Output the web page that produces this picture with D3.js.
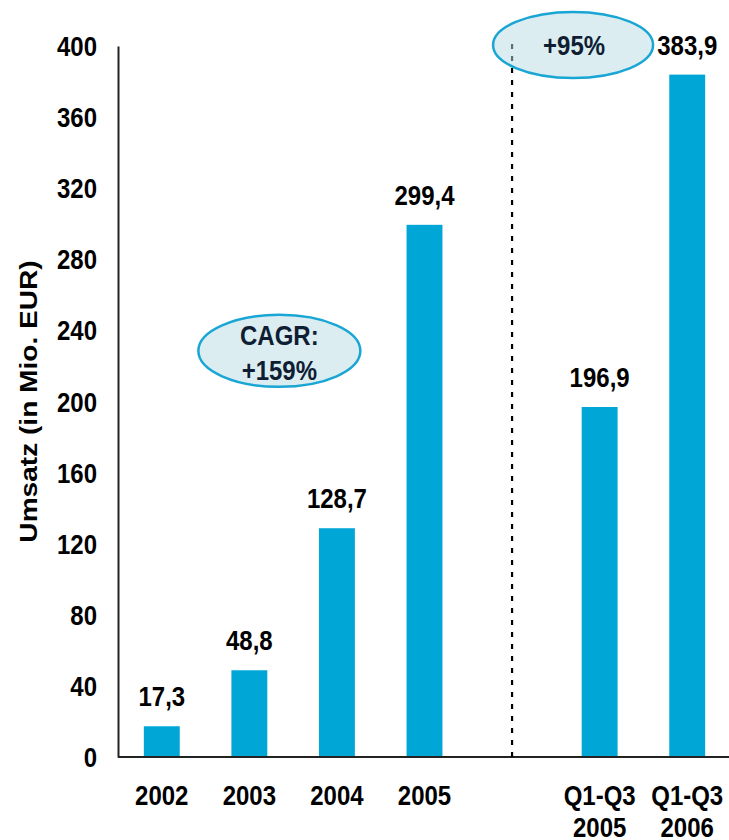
<!DOCTYPE html>
<html>
<head>
<meta charset="utf-8">
<script src="https://cdn.jsdelivr.net/npm/d3@7"></script>
<style>
  html, body { margin: 0; padding: 0; background: #fff; }
  svg { display: block; }
  text { font-family: "Liberation Sans", Arial, sans-serif; font-weight: bold; }
</style>
</head>
<body>
<svg id="chart" width="729" height="840"></svg>
<script>
// ---- data ----
const categories = ["2002", "2003", "2004", "2005", "", "Q1-Q3 2005", "Q1-Q3 2006"];
const categoryLines = [["2002"], ["2003"], ["2004"], ["2005"], [], ["Q1-Q3", "2005"], ["Q1-Q3", "2006"]];
const values = [17.3, 48.8, 128.7, 299.4, null, 196.9, 383.9];
const yTicks = [0, 40, 80, 120, 160, 200, 240, 280, 320, 360, 400];
const yTitle = "Umsatz (in Mio. EUR)";
const cagrLines = ["CAGR:", "+159%"];
const growthLabel = "+95%";

// ---- setup ----
const svg = d3.select("#chart");
const FS = 24, SY = 1.17;
const barColor = "#00a6d6";

const x = d3.scaleBand().domain(categories).range([118, 731]).paddingInner(0.59).paddingOuter(0.295);
const y = d3.scaleLinear().domain([0, 400]).range([757, 46]);

const de = d3.formatLocale({decimal: ",", thousands: ".", grouping: [3], currency: ["", "€"]});
const fmt = de.format(".1f");

function label(g, tx, ty, str, anchor, color) {
  return g.append("text")
    .attr("transform", `translate(${tx},${ty}) scale(1,${SY})`)
    .attr("text-anchor", anchor || "middle")
    .attr("font-size", FS)
    .attr("fill", color || "#000")
    .text(str);
}

// bars
const bars = categories.map((c, i) => ({c, v: values[i]})).filter(d => d.v != null);
svg.append("g").selectAll("rect").data(bars).join("rect")
  .attr("x", d => x(d.c))
  .attr("y", d => y(d.v))
  .attr("width", x.bandwidth())
  .attr("height", d => y(0) - y(d.v))
  .attr("fill", barColor);

// value labels
const vl = svg.append("g");
bars.forEach(d => label(vl, x(d.c) + x.bandwidth() / 2, y(d.v) - 20, fmt(d.v)));

// y axis
const yAxis = svg.append("g").attr("transform", "translate(118,0)")
  .call(d3.axisLeft(y).tickValues(yTicks).tickSize(0).tickFormat(""));
yAxis.select(".domain").attr("stroke", "#222").attr("stroke-width", 2);
const yl = svg.append("g");
yTicks.forEach(t => label(yl, 97, y(t) + 10, String(t), "end"));

// x axis
const xAxis = svg.append("g").attr("transform", `translate(0,${y(0)})`)
  .call(d3.axisBottom(x).tickSize(0).tickFormat(""));
xAxis.select(".domain").attr("stroke", "#222").attr("stroke-width", 2).attr("d", "M118,0H729");
const xl = svg.append("g");
categories.forEach((c, i) => {
  categoryLines[i].forEach((ln, j) => label(xl, x(c) + x.bandwidth() / 2, 805 + j * 32, ln));
});

// y title
svg.append("text")
  .attr("transform", `translate(37,${(y(0) + y(400)) / 2}) scale(1,${SY}) rotate(-90)`)
  .attr("text-anchor", "middle")
  .attr("font-size", FS)
  .text(yTitle);

// separator dashed line
const sepX = x("") + x.bandwidth() / 2;
svg.append("line")
  .attr("x1", sepX).attr("x2", sepX)
  .attr("y1", y(0)).attr("y2", y(400) - 3)
  .attr("stroke", "#000").attr("stroke-width", 2.2)
  .attr("stroke-dasharray", "5,7");

// annotation ellipses
const eg = svg.append("g");
const ag = svg.append("g");
function ellipse(cx, cy, rx, ry) {
  eg.append("ellipse")
    .attr("cx", cx).attr("cy", cy).attr("rx", rx).attr("ry", ry)
    .attr("fill", "rgb(185,219,229)").attr("fill-opacity", 0.5)
    .attr("stroke", "#1aa6d4").attr("stroke-width", 2.5);
}
const navy = "#0f1e33";
ellipse(sepX + 61, y(400) - 1, 80, 33);
label(ag, sepX + 62, y(400) + 9, growthLabel, "middle", navy);

const cagrX = x("2003") + x.bandwidth() / 2 + 30;
ellipse(cagrX, y(228.5), 81, 36);
label(ag, cagrX, y(228.5) - 6, cagrLines[0], "middle", navy);
label(ag, cagrX, y(228.5) + 29, cagrLines[1], "middle", navy);
</script>
</body>
</html>
